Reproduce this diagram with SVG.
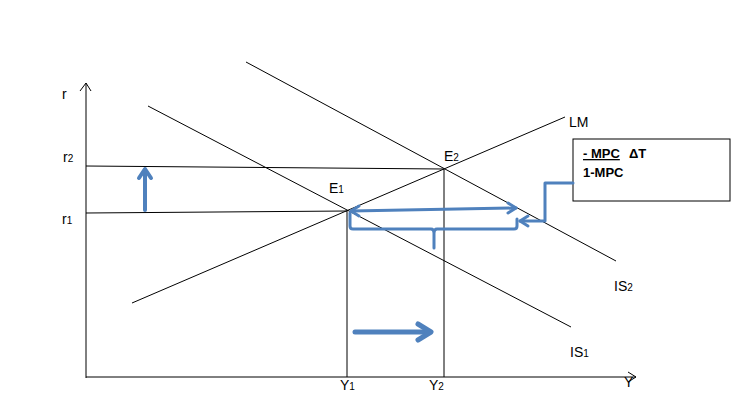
<svg xmlns="http://www.w3.org/2000/svg" width="751" height="400" viewBox="0 0 751 400">
<style>
.ln{stroke:#000;stroke-width:1;fill:none}
.bl{stroke:#4F81BD;stroke-width:3;fill:none;stroke-linecap:round;stroke-linejoin:round}
.t{font-family:"Liberation Sans",Arial,sans-serif;font-size:14px;fill:#000}
.s{font-size:10px}
.b{font-family:"Liberation Sans",Arial,sans-serif;font-size:13px;font-weight:bold;fill:#000}
</style>
<rect width="751" height="400" fill="#fff"/>
<g id="axes">
<line class="ln" x1="86" y1="83" x2="86" y2="378"/>
<polyline class="ln" points="80,91 86,83 91,91"/>
<line class="ln" x1="86" y1="377" x2="636" y2="377"/>
<polyline class="ln" points="628,372 636,377 628,382"/>
<text class="t" x="62" y="99">r</text>
<text class="t" x="624" y="387">Y</text>
</g>
<g id="curves">
<line class="ln" x1="132" y1="303" x2="565" y2="117"/>
<line class="ln" x1="148" y1="106" x2="571" y2="327"/>
<line class="ln" x1="246" y1="62" x2="616" y2="261"/>
<text class="t" x="569" y="127">LM</text>
<text class="t" x="614" y="291">IS<tspan class="s">2</tspan></text>
<text class="t" x="570" y="357">IS<tspan class="s">1</tspan></text>
</g>
<g id="guides">
<line class="ln" x1="86" y1="166" x2="444" y2="169"/>
<line class="ln" x1="86" y1="213" x2="347" y2="211"/>
<line class="ln" x1="347" y1="211" x2="347" y2="377"/>
<line class="ln" x1="444" y1="169" x2="444" y2="377"/>
<text class="t" x="63" y="162">r<tspan class="s">2</tspan></text>
<text class="t" x="62" y="224">r<tspan class="s">1</tspan></text>
<text class="t" x="329" y="193">E<tspan class="s">1</tspan></text>
<text class="t" x="444" y="161">E<tspan class="s">2</tspan></text>
<text class="t" x="340" y="390">Y<tspan class="s">1</tspan></text>
<text class="t" x="429" y="390">Y<tspan class="s">2</tspan></text>
</g>
<g id="box">
<rect x="573" y="139" width="157" height="62" fill="#fff" stroke="#000" stroke-width="1"/>
<text class="b" x="583" y="158" text-decoration="underline">- MPC</text>
<text class="b" x="629" y="158">ΔT</text>
<text class="b" x="583" y="177">1-MPC</text>
</g>
<g id="connectors">
<line class="bl" x1="145" y1="210" x2="145" y2="170" style="stroke-width:4"/>
<polyline class="bl" points="139,178 145,169 151,178" style="stroke-width:4"/>
<line class="bl" x1="355" y1="332" x2="430" y2="332" style="stroke-width:5"/>
<polyline class="bl" points="418,324 431,332 418,340" style="stroke-width:5"/>
<line class="bl" x1="351" y1="211" x2="516" y2="208"/>
<polyline class="bl" points="359,206 351,211 359,216"/>
<polyline class="bl" points="508,203 516,208 508,213"/>
<path class="bl" d="M350,213 V226 Q350,229 353,229 H431 Q434,229 434,233 V248 M434,233 Q434,229 437,229 H514 Q517,229 517,226 V219"/>
<polyline class="bl" points="573,183 545,183 545,221 520,221"/>
<polyline class="bl" points="528,216 520,221 528,226"/>
</g>
</svg>
